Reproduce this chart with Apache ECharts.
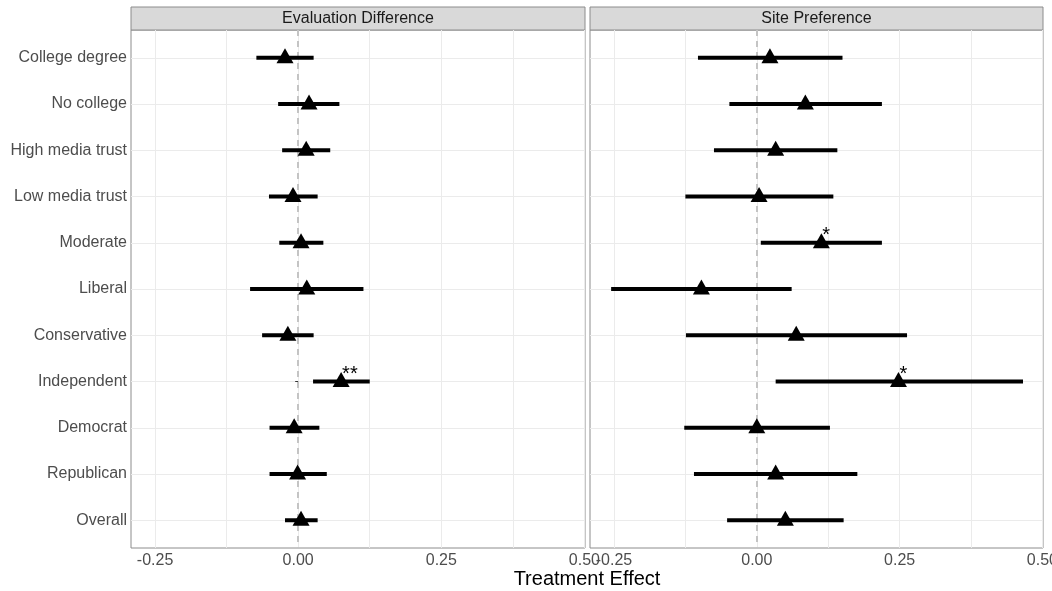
<!DOCTYPE html>
<html>
<head>
<meta charset="utf-8">
<script src="https://cdn.jsdelivr.net/npm/echarts@6/dist/echarts.min.js"></script>
<style>
  html, body { margin: 0; padding: 0; background: #fff; }
  #chart { width: 1052px; height: 591px; }
</style>
</head>
<body>
<div id="chart"></div>
<script>
  // categories, top to bottom
  const categories = ['College degree', 'No college', 'High media trust', 'Low media trust', 'Moderate',
    'Liberal', 'Conservative', 'Independent', 'Democrat', 'Republican', 'Overall']

  // Evaluation Difference
  const evalEst = [-0.023, 0.019, 0.014, -0.009, 0.005, 0.015, -0.018, 0.075, -0.007, -0.001, 0.005]
  const evalLo = [-0.073, -0.035, -0.028, -0.051, -0.033, -0.084, -0.063, 0.026, -0.050, -0.050, -0.023]
  const evalHi = [0.027, 0.072, 0.056, 0.034, 0.044, 0.114, 0.027, 0.125, 0.037, 0.050, 0.034]
  const evalStars = ['', '', '', '', '', '', '', '**', '', '', '']

  // Site Preference
  const siteEst = [0.023, 0.085, 0.033, 0.004, 0.113, -0.097, 0.069, 0.248, 0.000, 0.033, 0.050]
  const siteLo = [-0.103, -0.048, -0.075, -0.125, 0.007, -0.255, -0.124, 0.033, -0.127, -0.110, -0.052]
  const siteHi = [0.150, 0.219, 0.141, 0.134, 0.219, 0.061, 0.263, 0.466, 0.128, 0.176, 0.152]
  const siteStars = ['', '', '', '', '*', '', '', '*', '', '', '']

  const panelTitles = ['Evaluation Difference', 'Site Preference']
  const xTicks = [-0.25, 0, 0.25, 0.5]
  const xGrid = [-0.25, -0.125, 0, 0.125, 0.25, 0.375, 0.5]

  const FONT = '"Liberation Sans", Arial, sans-serif'
  const chart = echarts.init(document.getElementById('chart'))

  const grids = [
    { left: 131, top: 30, width: 454, height: 518 },
    { left: 590, top: 30, width: 453, height: 518 }
  ]

  const xAxes = grids.map((g, i) => ({
    type: 'value',
    gridIndex: i,
    min: -0.292,
    max: 0.501,
    axisLine: { show: false },
    axisTick: { show: false, customValues: xGrid },
    splitLine: { show: true, lineStyle: { color: '#ebebeb', width: 1 } },
    axisLabel: {
      customValues: xTicks,
      color: '#4d4d4d',
      fontSize: 16,
      fontFamily: FONT,
      margin: 5,
      formatter: v => v.toFixed(2)
    }
  }))

  const yAxes = grids.map((g, i) => ({
    type: 'value',
    gridIndex: i,
    inverse: true,
    min: 0.4,
    max: 11.6,
    axisLine: { show: false },
    axisTick: { show: i === 0, length: 3, lineStyle: { color: '#333' }, customValues: categories.map((c, k) => k + 1) },
    splitLine: { show: true, lineStyle: { color: '#ebebeb', width: 1 } },
    axisLabel: {
      show: i === 0,
      customValues: categories.map((c, k) => k + 1),
      color: '#4d4d4d',
      fontSize: 16,
      fontFamily: FONT,
      margin: 4,
      formatter: v => categories[Math.round(v) - 1] || ''
    }
  }))

  const makeSeries = (idx, est, lo, hi, stars) => [
    {
      // zero reference line, below everything else
      type: 'line',
      xAxisIndex: idx,
      yAxisIndex: idx,
      data: [],
      z: 1,
      markLine: {
        silent: true,
        z: 1,
        symbol: 'none',
        label: { show: false },
        lineStyle: { color: '#c4c4c4', type: [6, 5], width: 2 },
        data: [{ xAxis: 0 }]
      }
    },
    {
      type: 'custom',
      xAxisIndex: idx,
      yAxisIndex: idx,
      data: categories.map((c, k) => [lo[k], hi[k], k + 1]),
      renderItem: (params, api) => {
        const a = api.coord([api.value(0), api.value(2)])
        const b = api.coord([api.value(1), api.value(2)])
        return {
          type: 'line',
          shape: { x1: a[0], y1: a[1], x2: b[0], y2: b[1] },
          style: { stroke: '#000', lineWidth: 4 }
        }
      },
      z: 3
    },
    {
      type: 'scatter',
      xAxisIndex: idx,
      yAxisIndex: idx,
      symbol: 'triangle',
      symbolSize: [17, 15],
      symbolOffset: [0, -2],
      itemStyle: { color: '#000', opacity: 1 },
      data: categories.map((c, k) => ({
        value: [est[k], k + 1],
        label: {
          show: stars[k] !== '',
          formatter: stars[k],
          position: 'inside',
          align: 'left',
          offset: [1, -5],
          color: '#000',
          fontSize: 20,
          fontFamily: FONT
        }
      })),
      z: 4
    }
  ]

  const strips = grids.map((g, i) => ({
    type: 'group',
    children: [
      {
        type: 'rect',
        shape: { x: g.left, y: 7, width: g.width, height: 23 },
        style: { fill: '#d9d9d9', stroke: '#8c8c8c', lineWidth: 1 }
      },
      {
        type: 'text',
        x: g.left + g.width / 2,
        y: 18.5,
        style: {
          text: panelTitles[i],
          fill: '#1a1a1a',
          fontSize: 16,
          fontFamily: FONT,
          align: 'center',
          verticalAlign: 'middle'
        }
      }
    ]
  }))

  const option = {
    backgroundColor: '#fff',
    animation: false,
    grid: grids.map(g => Object.assign({
      show: true,
      borderColor: '#8c8c8c',
      borderWidth: 1,
      backgroundColor: 'transparent',
      containLabel: false,
      outerBoundsMode: 'none'
    }, g)),
    xAxis: xAxes,
    yAxis: yAxes,
    graphic: strips.concat([
      {
        type: 'text',
        x: 587,
        y: 579,
        style: {
          text: 'Treatment Effect',
          fill: '#000',
          fontSize: 20,
          fontFamily: FONT,
          align: 'center',
          verticalAlign: 'middle'
        }
      }
    ]),
    series: [
      ...makeSeries(0, evalEst, evalLo, evalHi, evalStars),
      ...makeSeries(1, siteEst, siteLo, siteHi, siteStars)
    ]
  }

  chart.setOption(option)
  window.addEventListener('resize', () => chart.resize())
</script>
</body>
</html>
